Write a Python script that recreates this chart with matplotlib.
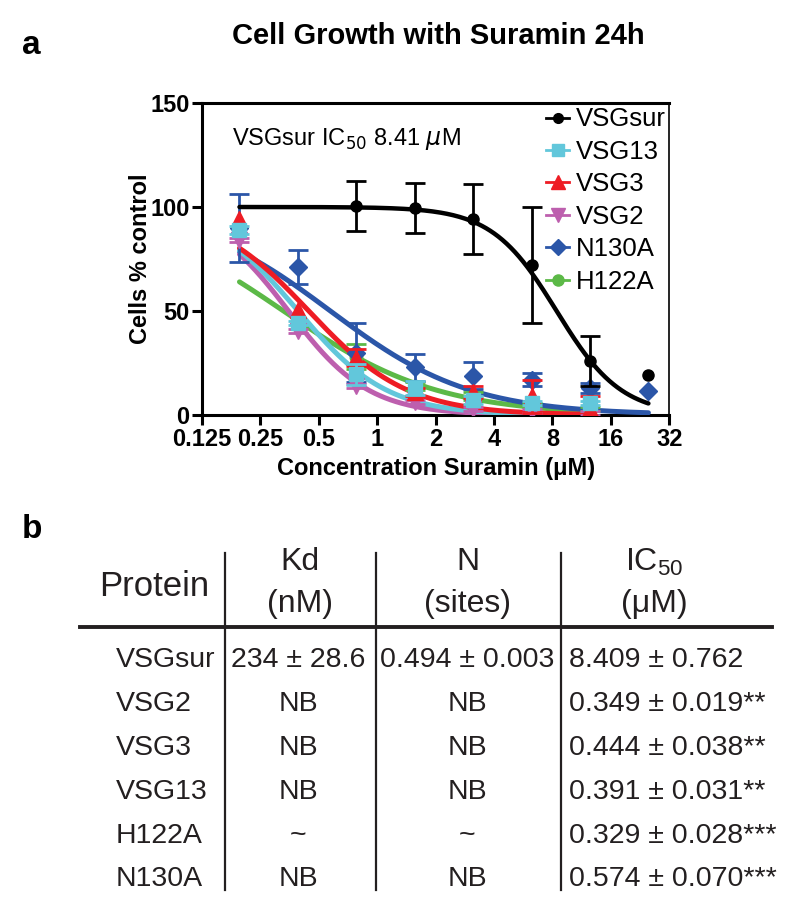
import numpy as np
import matplotlib
matplotlib.use("Agg")
import matplotlib.pyplot as plt
from matplotlib.lines import Line2D

plt.rcParams['font.family'] = ['Liberation Sans', 'DejaVu Sans']
plt.rcParams['mathtext.fontset'] = 'dejavusans'

# ---- data ----
conc = [0.195, 0.39, 0.78, 1.5625, 3.125, 6.25, 12.5, 25]
xticks = [0.125, 0.25, 0.5, 1, 2, 4, 8, 16, 32]
xtick_labels = ["0.125", "0.25", "0.5", "1", "2", "4", "8", "16", "32"]

nan = np.nan
vsgsur = [nan, nan, 100.3, 99.5, 94.2, 72, 26, 19]
vsgsur_err = [nan, nan, 12, 12, 17, 28, 12, nan]
n130a = [90, 71.2, 30, 23, 18.8, 17, 13, 11.5]
n130a_err = [16.4, 8, 14, 6.5, 6.5, 3, 2.5, nan]
vsg3 = [94, 50.5, 27.5, 11, 11, 9, 3, nan]
vsg3_err = [nan, nan, 4, 2, 3, 8, 6, nan]
vsg13 = [89, 44.3, 19.5, 13, 7.2, 5.8, 5.8, nan]
vsg13_err = [2, 1, 5, 3.5, 2, 1, 1, nan]
vsg2 = [84, 40.5, 14, 6.4, 3, 2, 1, nan]
vsg2_err = [1, 1, 1, 1, 1, 1, 1, nan]
h122a = [88, 46, 28, 14, 9, 5, 3, nan]
h122a_err = [nan, nan, 6, 2, 2, 1, 1, nan]

# fitted dose-response parameters (IC50 from table, hill slope)
fit_ic50 = {"VSGsur": 8.409, "N130A": 0.574, "VSG3": 0.444, "VSG13": 0.391,
            "VSG2": 0.349, "H122A": 0.329}
fit_hill = {"VSGsur": 2.6, "N130A": 1.2, "VSG3": 1.7, "VSG13": 1.9,
            "VSG2": 2.1, "H122A": 1.1}
fit_xmax = {"VSGsur": 25, "N130A": 25, "VSG3": 12.5, "VSG13": 12.5,
            "VSG2": 12.5, "H122A": 12.5}

# table
proteins = ["VSGsur", "VSG2", "VSG3", "VSG13", "H122A", "N130A"]
kd = ["234 ± 28.6", "NB", "NB", "NB", "~", "NB"]
n_sites = ["0.494 ± 0.003", "NB", "NB", "NB", "~", "NB"]
ic50_txt = ["8.409 ± 0.762", "0.349 ± 0.019**", "0.444 ± 0.038**",
            "0.391 ± 0.031**", "0.329 ± 0.028***", "0.574 ± 0.070***"]

# ---- styles ----
series = [
    # name, y, err, color, marker, ms, line zorder, marker zorder
    ("H122A", h122a, h122a_err, "#5cb947", "o", 9, 2, 5),
    ("N130A", n130a, n130a_err, "#2b56a8", "D", 9, 3, 6),
    ("VSG2", vsg2, vsg2_err, "#bd5fae", "v", 11, 3.2, 7),
    ("VSG13", vsg13, vsg13_err, "#62c7db", "s", 10, 3.4, 9),
    ("VSG3", vsg3, vsg3_err, "#ee1c24", "^", 11, 3.6, 8),
    ("VSGsur", vsgsur, vsgsur_err, "#000000", "o", 8, 10, 11),
]

fig = plt.figure(figsize=(8, 9.11), dpi=100)
ax = fig.add_axes([0.2525, 1 - 415 / 911, 0.584, 312 / 911])

for name, y, err, col, mk, ms, zl, zm in series:
    xs = np.logspace(np.log10(conc[0]), np.log10(fit_xmax[name]), 200)
    curve = 100 / (1 + (xs / fit_ic50[name]) ** fit_hill[name])
    lw = 3.2 if name == "VSGsur" else 3.6
    ax.plot(xs, curve, color=col, lw=lw, zorder=zl, solid_capstyle='round')
    ax.errorbar(conc, y, yerr=err, fmt=mk, color=col, ms=ms, elinewidth=2,
                capsize=7, capthick=2, zorder=zm)

ax.set_xscale('log', base=2)
ax.set_xlim(0.125, 32)
ax.set_ylim(0, 150)
ax.set_xticks(xticks)
ax.set_xticklabels(xtick_labels)
ax.minorticks_off()
ax.set_yticks([0, 50, 100, 150])
for s in ['left', 'bottom', 'top']:
    ax.spines[s].set_linewidth(2.2)
ax.spines['right'].set_linewidth(1.2)
ax.tick_params(axis='both', direction='out', length=7, width=2.2, labelsize=17, pad=2)
for lab in ax.get_xticklabels() + ax.get_yticklabels():
    lab.set_fontweight('bold')

ax.set_xlabel("Concentration Suramin (μM)", fontsize=17, fontweight='bold', labelpad=5)
ax.set_ylabel("Cells % control", fontsize=17, fontweight='bold', labelpad=-1)
ax.text(0.065, 0.885, "VSGsur IC$_{50}$ 8.41 $\\mu$M", transform=ax.transAxes,
        fontsize=17, ha='left', va='center')

legend_order = ["VSGsur", "VSG13", "VSG3", "VSG2", "N130A", "H122A"]
style = {s[0]: s for s in series}
handles = [Line2D([], [], color=style[n][3], marker=style[n][4], ms=style[n][5] - 1,
                  lw=2) for n in legend_order]
ax.legend(handles, legend_order, loc='upper right', bbox_to_anchor=(1.025, 1.035),
          frameon=False, fontsize=18.5, handlelength=0.9, handletextpad=0.25,
          labelspacing=0.33, borderaxespad=0.2)

fig.text(438 / 800, 1 - 36 / 911, "Cell Growth with Suramin 24h",
         fontsize=21, fontweight='bold', ha='center', va='center')
fig.text(22 / 800, 1 - 46 / 911, "a", fontsize=24, fontweight='bold', ha='left', va='center')
fig.text(22 / 800, 1 - 530 / 911, "b", fontsize=24, fontweight='bold', ha='left', va='center')

# ---- table (pixel coordinates) ----
tx = fig.add_axes([0, 0, 1, 1], zorder=-1)
tx.set_xlim(0, 800)
tx.set_ylim(911, 0)
tx.axis('off')
tc = '#231f20'
fs_h = 23
fs_r = 20.5

tx.text(154, 586, "Protein", fontsize=25, color=tc, ha='center', va='center')
tx.text(300, 562, "Kd", fontsize=fs_h, color=tc, ha='center', va='center')
tx.text(300, 604, "(nM)", fontsize=fs_h, color=tc, ha='center', va='center')
tx.text(468, 562, "N", fontsize=fs_h, color=tc, ha='center', va='center')
tx.text(468, 604, "(sites)", fontsize=fs_h, color=tc, ha='center', va='center')
tx.text(654, 562, "IC$\\mathregular{_{50}}$", fontsize=fs_h, color=tc, ha='center', va='center')
tx.text(654, 604, "(μM)", fontsize=fs_h, color=tc, ha='center', va='center')

tx.plot([80, 772], [627, 627], color=tc, lw=2.8)
for xv in [225, 376, 561]:
    tx.plot([xv, xv], [553, 890], color=tc, lw=1.6)

row_y = [660, 704, 748, 792, 836, 879]
for i, yy in enumerate(row_y):
    tx.text(116, yy, proteins[i], fontsize=fs_r, color=tc, ha='left', va='center')
    tx.text(298, yy, kd[i], fontsize=fs_r, color=tc, ha='center', va='center')
    tx.text(467, yy, n_sites[i], fontsize=fs_r, color=tc, ha='center', va='center')
    tx.text(569, yy, ic50_txt[i], fontsize=fs_r, color=tc, ha='left', va='center')

fig.savefig("out.png", dpi=100)
